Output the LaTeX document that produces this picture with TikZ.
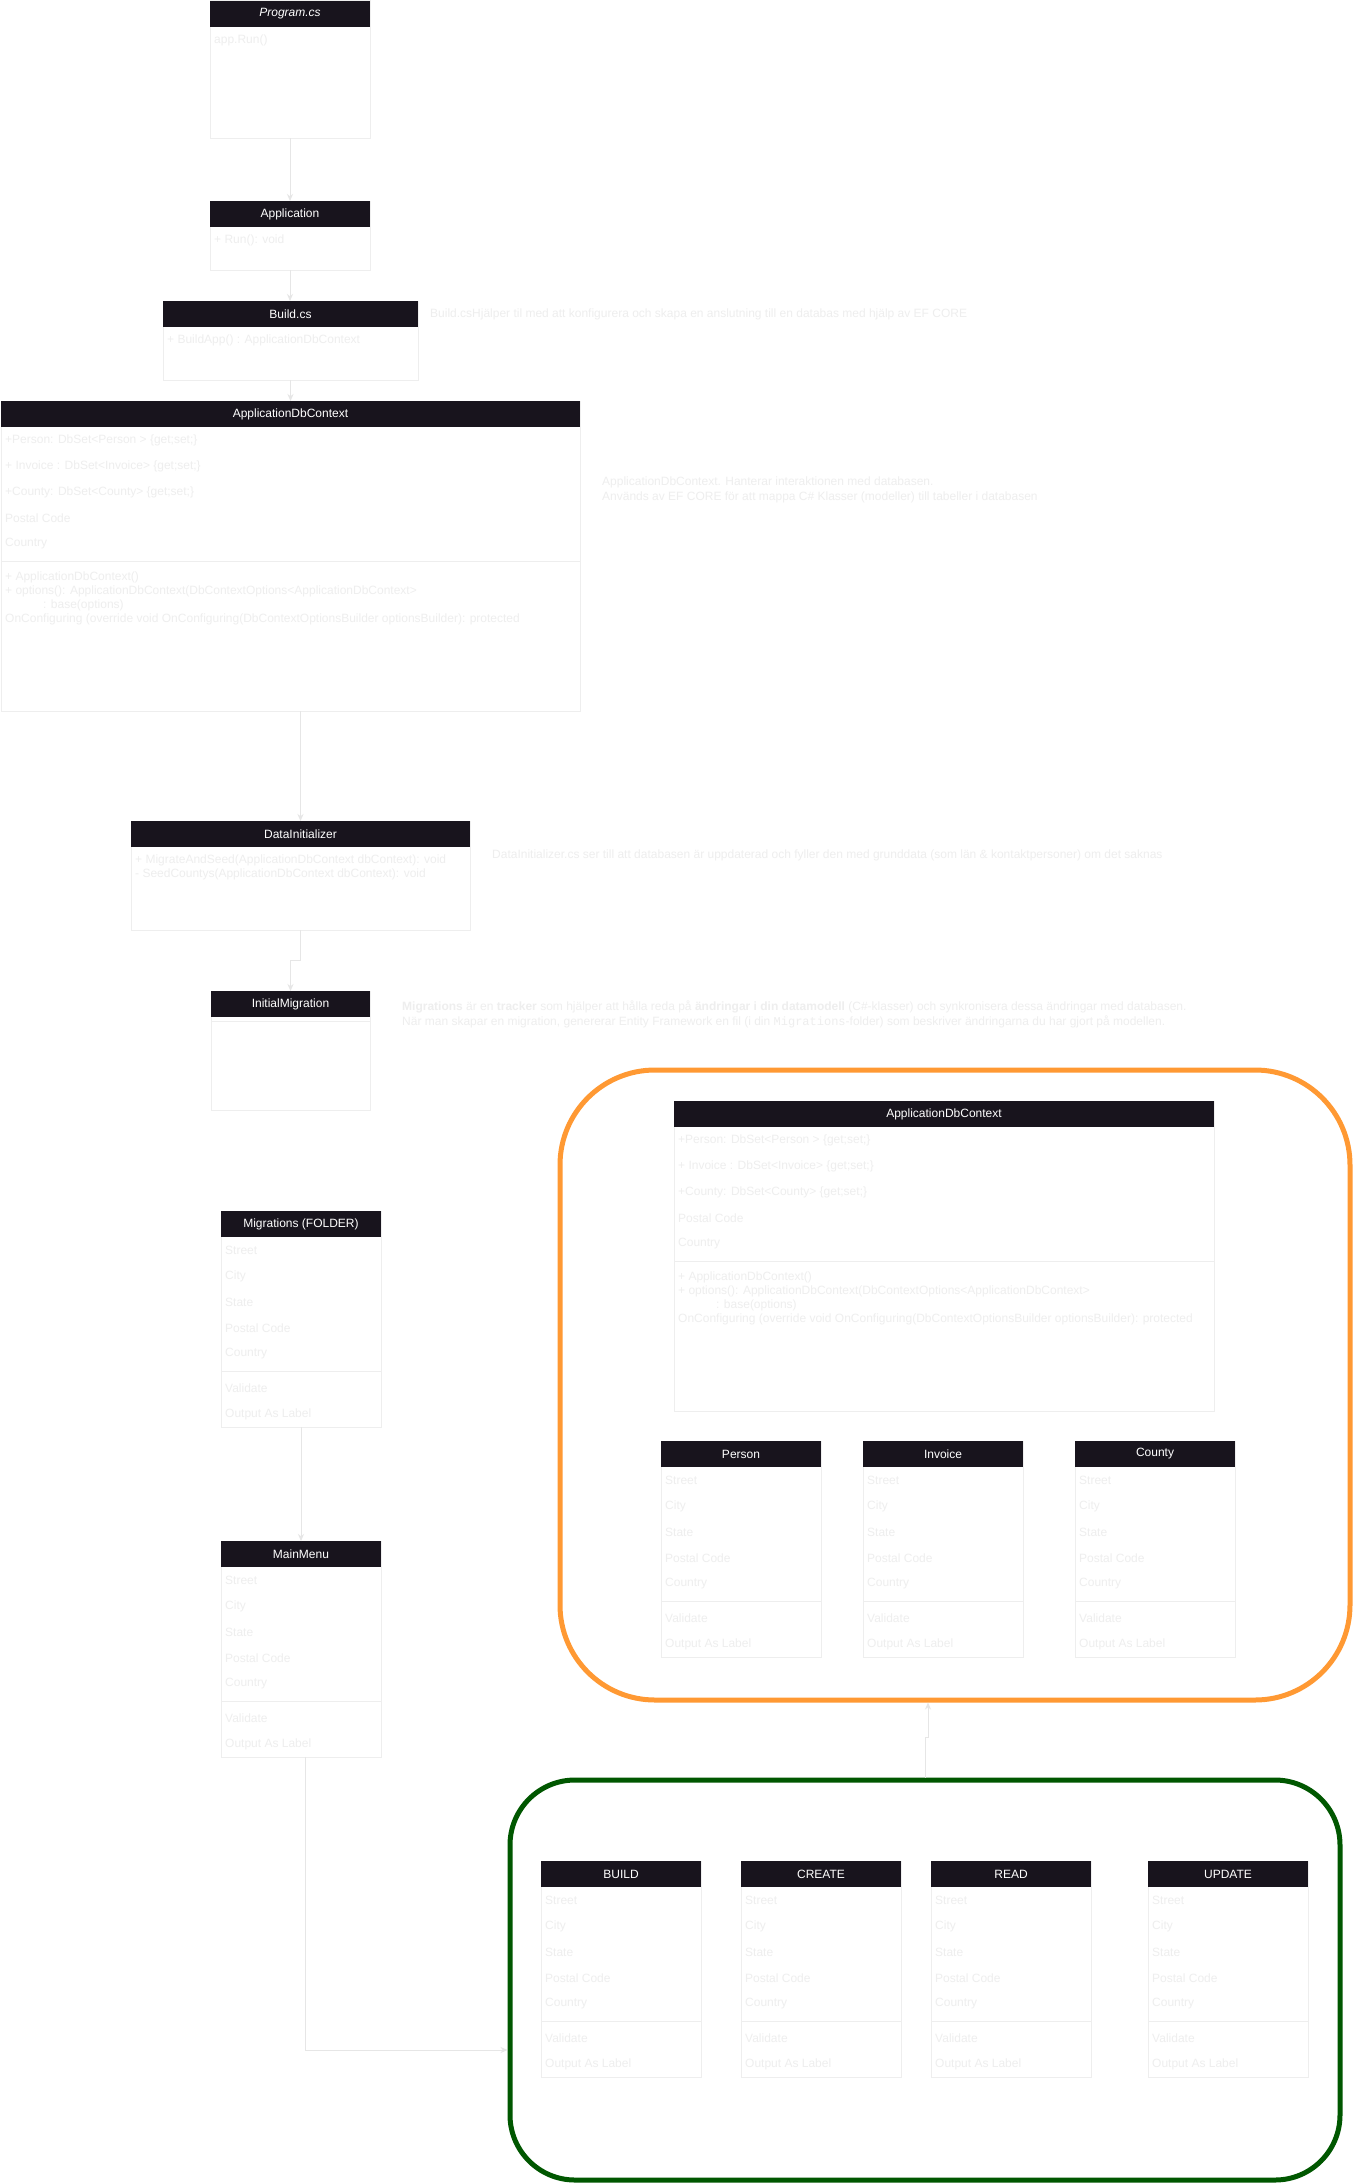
\documentclass[tikz,border=0pt]{standalone}
\usepackage{fontspec}
\setmainfont{Liberation Sans}
\setmonofont{Liberation Mono}
\usepackage{xcolor}
\usepackage{tikz}
\usetikzlibrary{arrows.meta,calc}
\definecolor{hdrdark}{HTML}{18141D}
\definecolor{faint}{HTML}{EEEEEE}
\definecolor{edge}{HTML}{E6E6E6}
\definecolor{grporange}{HTML}{FF9933}
\definecolor{grpgreen}{HTML}{005700}
\newcommand{\boxfont}{\fontsize{12}{14}\selectfont}
\newcommand{\notefont}{\fontsize{12}{15}\selectfont}
% class box: name, left, top, width, height, title
\newcommand{\classbox}[6]{%
  \node[body, minimum width=#4, minimum height=#5] (#1) at (#2,#3) {};
  \node[hdr, minimum width=#4] (#1-h) at (#1.north west) {#6};}
% template class: name, left, top, title
\newcommand{\stdclass}[4]{%
  \classbox{#1}{#2}{#3}{160}{216}{#4}
  \foreach \lbl [count=\i] in {Street,City,State,Postal Code,Country}
    \node[row] (#1-a\i) at ($(#1.north west)+(4,13+26*\i)$) {\lbl};
  \draw[divider] ($(#1.north west)+(0,160)$) -- ($(#1.north east)+(0,160)$);
  \node[row] (#1-m1) at ($(#1.north west)+(4,177)$) {Validate};
  \node[row] (#1-m2) at ($(#1.north west)+(4,203)$) {Output As Label};}
% context class: name, left, top, width
\newcommand{\ctxclass}[4]{%
  \classbox{#1}{#2}{#3}{#4}{310}{ApplicationDbContext}
  \foreach \lbl [count=\i] in {{+Person: DbSet<Person > \{get;set;\}},{+ Invoice : DbSet<Invoice> \{get;set;\}},{+County: DbSet<County> \{get;set;\}},Postal Code,Country}
    \node[row] (#1-a\i) at ($(#1.north west)+(4,13+26*\i)$) {\lbl};
  \draw[divider] ($(#1.north west)+(0,160)$) -- ($(#1.north east)+(0,160)$);
  \node[rows] (#1-m) at ($(#1.north west)+(4,171)$) {+ ApplicationDbContext()\\+ options(): ApplicationDbContext(DbContextOptions<ApplicationDbContext>\\\hspace*{38pt}: base(options)\\OnConfiguring (override void OnConfiguring(DbContextOptionsBuilder optionsBuilder): protected};}

\begin{document}
\begin{tikzpicture}[x=1pt, y=-1pt,
  hdr/.style={anchor=north west, fill=hdrdark, text=white, minimum height=26, inner sep=0, outer sep=0, font=\boxfont},
  body/.style={anchor=north west, draw=faint, line width=1pt, fill=white, inner sep=0, outer sep=0},
  row/.style={anchor=west, inner sep=0, text=faint, font=\boxfont},
  rows/.style={anchor=north west, inner sep=0, text=faint, align=left, font=\boxfont},
  note/.style={anchor=west, inner sep=0, text=faint, align=left, font=\notefont},
  divider/.style={draw=faint, line width=1pt},
  grp/.style={draw, line width=5pt, inner sep=0},
  arr/.style={-{Stealth[length=7pt, width=6pt]}, draw=edge, line width=1pt}]
\path[use as bounding box, fill=white] (0,0) rectangle (1354,2184);
% groups
\node[grp, draw=grporange, minimum width=790, minimum height=630, rounded corners=95] (modelgrp) at (955,1385) {};
\node[grp, draw=grpgreen, minimum width=830, minimum height=400, rounded corners=65] (crudgrp) at (925,1980) {};
% startup chain (left column)
\classbox{program}{210}{1}{160}{137}{\textit{Program.cs}}
\node[row] (program-a1) at ($(program.north west)+(4,39)$) {app.Run()};
\classbox{application}{210}{201}{160}{69}{Application}
\node[row] (application-a1) at ($(application.north west)+(4,39)$) {+ Run(): void};
\classbox{buildcs}{163}{301}{255}{79}{Build.cs}
\node[row] (buildcs-a1) at ($(buildcs.north west)+(4,39)$) {+ BuildApp() : ApplicationDbContext};
\ctxclass{appctx}{1}{401}{579}
\classbox{datainit}{131}{821}{339}{109}{DataInitializer}
\node[rows] (datainit-m) at ($(datainit.north west)+(4,34)$) {+ MigrateAndSeed(ApplicationDbContext dbContext): void\\- SeedCountys(ApplicationDbContext dbContext): void};
\classbox{initmig}{211}{991}{159}{119}{InitialMigration}
\draw[divider] ($(initmig.north west)+(0,30)$) -- ($(initmig.north east)+(0,30)$);
\stdclass{migfolder}{221}{1211}{Migrations (FOLDER)}
\stdclass{mainmenu}{221}{1541}{MainMenu}
% notes
\node[note] (buildnote) at (430,314) {Build.csHjälper til med att konfigurera och skapa en anslutning till en databas med hjälp av EF CORE};
\node[note] (ctxnote) at (602,490) {ApplicationDbContext. Hanterar interaktionen med databasen.\\Används av EF CORE för att mappa C\# Klasser (modeller) till tabeller i databasen};
\node[note] (initnote) at (492,855) {DataInitializer.cs ser till att databasen är uppdaterad och fyller den med grunddata (som län \& kontaktpersoner) om det saknas};
\node[note] (mignote) at (402,1014) {\textbf{Migrations} är en \textbf{tracker} som hjälper att hålla reda på \textbf{ändringar i din datamodell} (C\#-klasser) och synkronisera dessa ändringar med databasen.\\När man skapar en migration, genererar Entity Framework en fil (i din \texttt{Migrations}-folder) som beskriver ändringarna du har gjort på modellen.};
% models (orange group)
\ctxclass{appctx2}{674}{1101}{540}
\stdclass{person}{661}{1441}{Person}
\stdclass{invoice}{863}{1441}{Invoice}
\stdclass{county}{1075}{1441}{County}
% crud (green group)
\stdclass{build}{541}{1861}{BUILD}
\stdclass{create}{741}{1861}{CREATE}
\stdclass{read}{931}{1861}{READ}
\stdclass{update}{1148}{1861}{UPDATE}
% arrows
\draw[arr] (program.south) -- (application.north);
\draw[arr] (application.south) -- (application.south |- buildcs.north);
\draw[arr] (buildcs.south) -- (buildcs.south |- appctx.north);
\draw[arr] (datainit.north |- appctx.south) -- (datainit.north);
\draw[arr] (datainit.south) -- ++(0,30) -| (initmig.north);
\draw[arr] (migfolder.south) -- (mainmenu.north);
\draw[arr] ([xshift=4pt]mainmenu.south) |- ([yshift=-70pt]crudgrp.west);
\draw[arr] (crudgrp.north) -- ++(0,-40) -| ([xshift=-27pt]modelgrp.south);
\end{tikzpicture}
\end{document}
